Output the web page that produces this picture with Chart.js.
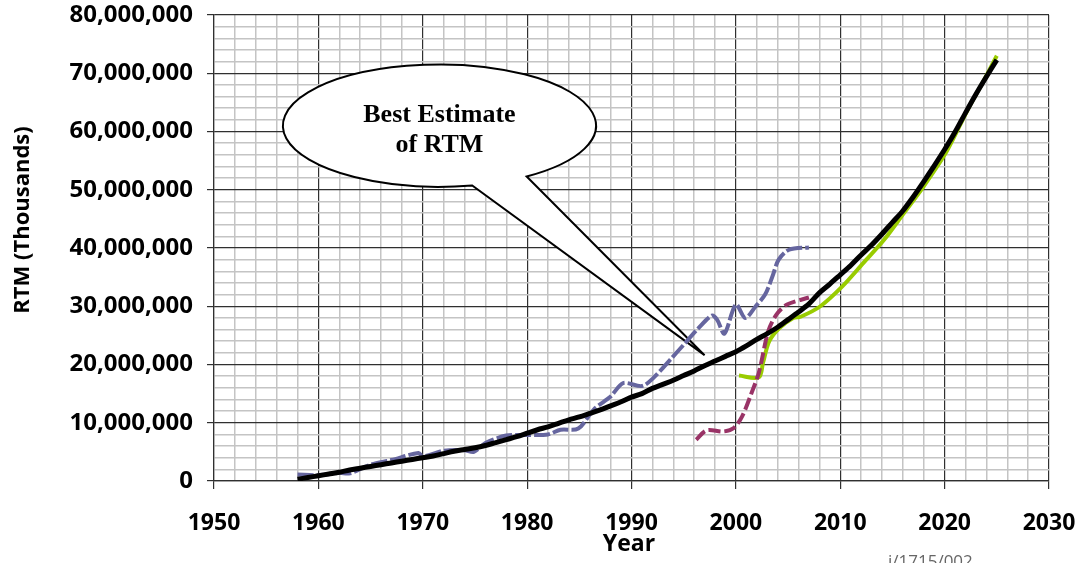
<!DOCTYPE html>
<html>
<head>
<meta charset="utf-8">
<script src="https://cdn.jsdelivr.net/npm/chart.js@4/dist/chart.umd.min.js"></script>
<style>
  html, body { margin: 0; padding: 0; background: #fff; }
  #wrap { width: 1083px; height: 563px; }
</style>
</head>
<body>
<div id="wrap"><canvas id="rtmChart" width="1083" height="563"></canvas></div>
<script>
// values in millions of RTM (thousands)
const bestYears = [1958, 1959, 1960, 1961, 1962, 1963, 1964, 1965, 1966, 1967, 1968, 1969,
  1970, 1971, 1972, 1973, 1974, 1975, 1976, 1977, 1978, 1979, 1980, 1981, 1982, 1983, 1984,
  1985, 1986, 1987, 1988, 1989, 1990, 1991, 1992, 1993, 1994, 1995, 1996, 1997, 1998, 1999,
  2000, 2001, 2002, 2003, 2004, 2005, 2006, 2007, 2008, 2009, 2010, 2011, 2012, 2013, 2014,
  2015, 2016, 2017, 2018, 2019, 2020, 2021, 2022, 2023, 2024, 2025];
const bestValues = [0.3, 0.6, 0.9, 1.2, 1.5, 1.9, 2.2, 2.5, 2.8, 3.1, 3.4, 3.7,
  4.0, 4.3, 4.7, 5.1, 5.4, 5.7, 6.1, 6.6, 7.1, 7.6, 8.2, 8.8, 9.3, 9.9, 10.5,
  11.0, 11.6, 12.2, 12.9, 13.6, 14.4, 15.0, 15.9, 16.6, 17.3, 18.1, 18.9, 19.8, 20.6, 21.4,
  22.2, 23.2, 24.3, 25.3, 26.4, 27.7, 29.0, 30.4, 32.3, 33.8, 35.4, 37.0, 38.8, 40.5, 42.4,
  44.4, 46.4, 48.8, 51.4, 54.1, 56.9, 59.9, 63.2, 66.4, 69.4, 72.3];

const blueYears = [1958, 1960, 1962, 1963, 1965, 1967, 1969.6, 1970, 1972, 1974, 1974.9, 1976,
  1978, 1980, 1982, 1983.2, 1984.9, 1986.4, 1988, 1989.2, 1991, 1992.1, 1993.7, 1995, 1996.3,
  1997.7, 1998.2, 1998.9, 2000, 2000.9, 2001.9, 2002.8, 2003.5, 2004.1, 2005.1, 2007];
const blueValues = [1.1, 1.0, 1.4, 1.3, 2.8, 3.6, 4.8, 4.2, 5.2, 5.3, 5.0, 6.5,
  7.8, 7.9, 8.0, 8.8, 9.0, 12.3, 14.5, 16.8, 16.3, 17.7, 20.8, 23.4, 26.0,
  28.4, 27.7, 25.3, 30.3, 28.0, 30.0, 32.0, 35.1, 38.0, 39.7, 40.1];

const redYears = [1996.2, 1997.2, 1998.8, 1999.8, 2000.6, 2001.5, 2002.2, 2003.1, 2003.9, 2004.9, 2007];
const redValues = [7.1, 8.7, 8.5, 9.1, 11.1, 15.1, 18.6, 25.7, 28.6, 30.3, 31.5];

const greenYears = [2000.3, 2002.2, 2002.6, 2003.2, 2004.2, 2005.5, 2006.2, 2008.1, 2010.2,
  2012.2, 2014.2, 2016.1, 2018, 2020.2, 2022.2, 2023.8, 2025];
const greenValues = [18.1, 17.8, 20.3, 24.0, 26.3, 28.0, 28.2, 30.0, 33.4,
  37.4, 41.4, 46.0, 50.6, 56.6, 63.7, 68.9, 73.0];

const xTicks = [1950, 1960, 1970, 1980, 1990, 2000, 2010, 2020, 2030];

const toPoints = (xs, ys) => xs.map((x, i) => ({ x: x, y: ys[i] }));

const FONT = "'Open Sans', 'Liberation Sans', sans-serif";

// callout bubble + side texts
const calloutPlugin = {
  id: 'callout',
  beforeDatasetsDraw(chart) {
    const { ctx, scales: { x, y } } = chart;
    const cx = x.getPixelForValue(1971.6);
    const cy = y.getPixelForValue(61.0);
    const rx = x.getPixelForValue(1971.6 + 15) - cx;
    const ry = y.getPixelForValue(61.0 - 10.5) - cy;
    const tipX = x.getPixelForValue(1997.0);
    const tipY = y.getPixelForValue(21.6);
    const a1 = 1.36, a2 = 0.98;

    ctx.save();
    ctx.beginPath();
    ctx.ellipse(cx, cy, rx, ry, 0, a1, a2, false);
    ctx.lineTo(tipX, tipY);
    ctx.closePath();
    ctx.fillStyle = '#fff';
    ctx.fill();
    ctx.lineWidth = 2;
    ctx.strokeStyle = '#000';
    ctx.lineJoin = 'miter';
    ctx.stroke();

    ctx.fillStyle = '#000';
    ctx.font = "bold 26px 'Liberation Serif', 'DejaVu Serif', serif";
    ctx.textAlign = 'center';
    ctx.textBaseline = 'alphabetic';
    ctx.fillText('Best Estimate', cx, cy - 4);
    ctx.fillText('of RTM', cx, cy + 26);
    ctx.restore();
  },
  afterDraw(chart) {
    const { ctx } = chart;
    ctx.save();
    ctx.fillStyle = '#000';
    ctx.font = 'bold 22px ' + FONT;
    ctx.textAlign = 'center';
    ctx.textBaseline = 'middle';
    ctx.translate(23, 220);
    ctx.rotate(-Math.PI / 2);
    ctx.fillText('RTM (Thousands)', 0, 0);
    ctx.restore();

    ctx.save();
    ctx.fillStyle = '#000';
    ctx.font = 'bold 23px ' + FONT;
    ctx.textAlign = 'center';
    ctx.textBaseline = 'middle';
    ctx.fillText('Year', 629, 544);
    // reference number, cut off at the bottom edge
    ctx.fillStyle = '#666';
    ctx.font = '17px ' + FONT;
    ctx.textAlign = 'left';
    ctx.textBaseline = 'alphabetic';
    ctx.fillText('i/1715/002', 888, 567);
    ctx.restore();
  }
};

const majorX = v => v % 10 === 0;
const majorY = v => Math.abs(v % 10) < 1e-6;

new Chart(document.getElementById('rtmChart'), {
  type: 'line',
  data: {
    datasets: [
      {
        label: 'Best Estimate',
        data: toPoints(bestYears, bestValues),
        borderColor: '#000',
        borderWidth: 5,
        tension: 0.3
      },
      {
        label: 'Series A',
        data: toPoints(blueYears, blueValues),
        borderColor: '#66669f',
        borderWidth: 4,
        borderDash: [16, 3],
        tension: 0.3
      },
      {
        label: 'Series B',
        data: toPoints(redYears, redValues),
        borderColor: '#993366',
        borderWidth: 4,
        borderDash: [12, 4],
        tension: 0.3
      },
      {
        label: 'Series C',
        data: toPoints(greenYears, greenValues),
        borderColor: '#99cc00',
        borderWidth: 4,
        tension: 0.3
      }
    ]
  },
  options: {
    responsive: false,
    animation: false,
    layout: { padding: { top: 15, right: 34, left: 0, bottom: 0 } },
    elements: { point: { radius: 0 } },
    plugins: {
      legend: { display: false },
      tooltip: { enabled: false }
    },
    scales: {
      x: {
        type: 'linear',
        min: 1950,
        max: 2030,
        afterFit: s => {
          s.height = 82;
          s.paddingLeft = 0;
          s.paddingRight = 0;
        },
        afterBuildTicks: s => {
          const t = [];
          for (let v = 1950; v <= 2030; v += 2) t.push({ value: v });
          s.ticks = t;
        },
        ticks: {
          autoSkip: false,
          maxRotation: 0,
          padding: 21,
          color: '#000',
          font: { family: FONT, size: 23, weight: 'bold' },
          callback: v => (xTicks.includes(v) ? String(v) : '')
        },
        grid: {
          color: c => (majorX(c.tick.value) ? '#303030' : '#c4c4c4'),
          lineWidth: c => (majorX(c.tick.value) ? 1.2 : 1.5),
          tickColor: c => (majorX(c.tick.value) ? '#303030' : 'rgba(0,0,0,0)'),
          tickLength: 8
        },
        border: { color: '#303030', width: 1.2 }
      },
      y: {
        min: 0,
        max: 80,
        afterFit: s => {
          s.width = 214;
          s.paddingTop = 0;
          s.paddingBottom = 0;
        },
        ticks: {
          stepSize: 2,
          autoSkip: false,
          padding: 14,
          color: '#000',
          font: { family: FONT, size: 24, weight: 'bold' },
          callback: v => (majorY(v) ? Math.round(v * 1000000).toLocaleString('en-US') : '')
        },
        grid: {
          color: c => (majorY(c.tick.value) ? '#303030' : '#c4c4c4'),
          lineWidth: c => (majorY(c.tick.value) ? 1.2 : 1.5),
          tickColor: c => (majorY(c.tick.value) ? '#303030' : 'rgba(0,0,0,0)'),
          tickLength: 7
        },
        border: { color: '#303030', width: 1.2 }
      }
    }
  },
  plugins: [calloutPlugin]
});
</script>
</body>
</html>
